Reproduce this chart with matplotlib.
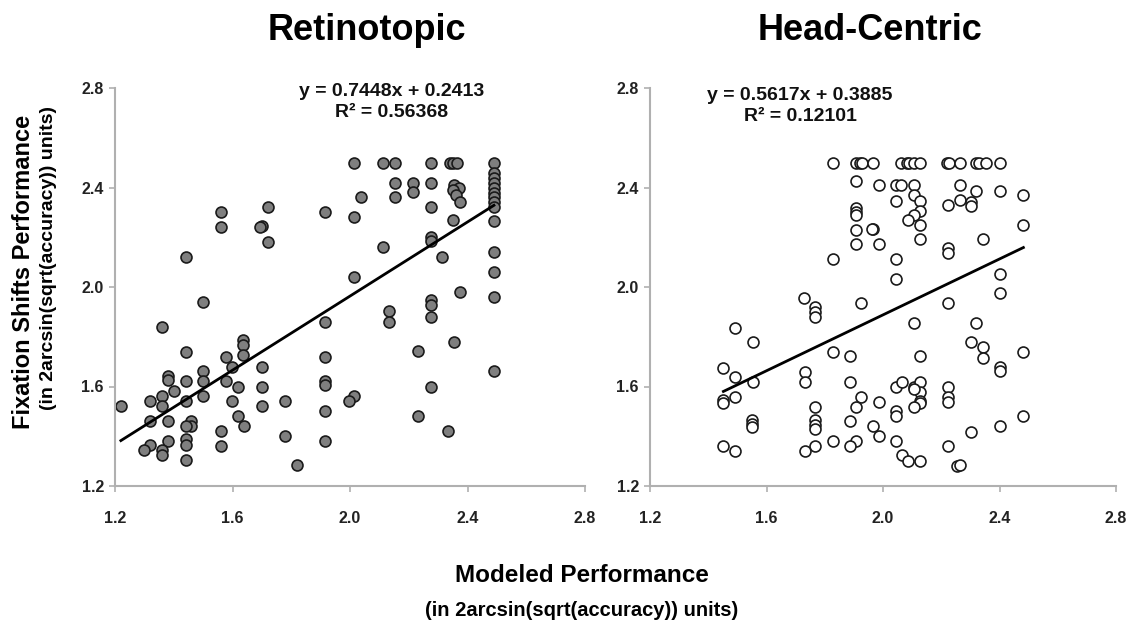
import numpy as np
import matplotlib
matplotlib.use("Agg")
import matplotlib.pyplot as plt

plt.rcParams['font.family'] = ['Liberation Sans', 'DejaVu Sans']
plt.rcParams['font.weight'] = 'bold'

# Retinotopic panel (modeled, fixation shifts)
retino_x = [
    1.56, 1.56, 1.72, 1.70, 1.695, 1.72, 1.916, 1.44, 1.50, 1.36, 1.916, 1.44, 1.578,
    1.637, 1.637, 1.637, 1.916,
    1.22, 1.70, 1.598, 1.38, 1.38, 1.44, 1.50, 1.50, 1.578, 1.619, 1.70, 1.916, 1.916,
    1.40, 1.36, 1.319, 1.36, 1.44, 1.50, 1.598, 1.70, 1.778, 1.916, 1.319, 1.38, 1.46,
    1.46, 1.44, 1.619, 1.639, 1.56, 1.778, 1.916, 1.38, 1.44, 1.44, 1.319, 1.299, 1.36,
    1.36, 1.56, 1.44, 1.82,
    2.014, 2.113, 2.154, 2.275, 2.34, 2.352, 2.363, 2.49,
    2.154, 2.213, 2.213, 2.275, 2.036, 2.154, 2.354, 2.37, 2.35, 2.36, 2.374, 2.275,
    2.49, 2.49, 2.49, 2.49, 2.49, 2.49, 2.49, 2.49, 2.49,
    2.014, 2.352, 2.275, 2.275, 2.113, 2.313, 2.49, 2.49, 2.014, 2.374, 2.49, 2.275,
    2.275, 2.275, 2.134, 2.134, 2.354, 2.233,
    2.49, 2.275, 2.014, 1.996, 2.233, 2.334,
]
retino_y = [
    2.30, 2.24, 2.32, 2.245, 2.24, 2.18, 2.30, 2.12, 1.94, 1.84, 1.86, 1.74, 1.72,
    1.786, 1.766, 1.726, 1.72,
    1.52, 1.68, 1.68, 1.643, 1.626, 1.623, 1.662, 1.623, 1.623, 1.60, 1.60, 1.623, 1.606,
    1.583, 1.563, 1.542, 1.523, 1.542, 1.563, 1.542, 1.523, 1.542, 1.503, 1.461, 1.462, 1.461,
    1.442, 1.441, 1.481, 1.442, 1.422, 1.402, 1.382, 1.382, 1.388, 1.365, 1.365, 1.345, 1.345,
    1.325, 1.361, 1.305, 1.283,
    2.50, 2.50, 2.50, 2.50, 2.50, 2.50, 2.50, 2.50,
    2.42, 2.42, 2.38, 2.42, 2.36, 2.36, 2.41, 2.40, 2.39, 2.37, 2.343, 2.32,
    2.457, 2.437, 2.419, 2.397, 2.377, 2.361, 2.343, 2.323, 2.267,
    2.28, 2.269, 2.20, 2.186, 2.162, 2.122, 2.142, 2.06, 2.041, 1.981, 1.961, 1.948,
    1.928, 1.88, 1.902, 1.86, 1.78, 1.741,
    1.662, 1.60, 1.563, 1.542, 1.481, 1.422,
]

# Head-Centric panel
head_x = [
    1.829, 1.906, 1.922, 1.929, 1.967, 2.062, 2.081, 2.09, 2.108, 2.126, 2.219, 2.226,
    2.265, 2.321, 2.328, 2.353, 2.403,
    1.906, 1.987, 2.044, 2.062, 2.108, 2.044, 2.106, 2.126, 2.126, 2.106, 2.085, 1.906,
    1.906, 1.906, 1.906, 1.967, 1.962, 2.126, 2.126, 1.906, 1.987, 2.224, 2.224, 2.224,
    1.829, 2.044, 2.044, 1.729, 1.768, 1.768, 1.768, 1.926, 2.224, 2.106, 1.552, 1.829,
    1.888, 2.126,
    1.731, 1.731, 1.552, 1.888, 1.926, 1.908, 1.768, 1.987, 2.044, 2.065, 2.106, 2.126,
    2.126, 2.108, 2.126, 2.126, 2.106, 2.224, 2.224, 2.224, 1.768, 1.768, 1.768, 1.888,
    2.044, 2.044, 1.967, 1.987, 1.829, 1.908, 1.888, 1.768, 1.731, 2.044, 2.065, 2.085,
    2.126, 2.224, 2.255,
    2.265, 2.321, 2.403, 2.482, 2.265, 2.301, 2.301, 2.482, 2.344, 2.403, 2.403, 2.321,
    2.301, 2.344, 2.344, 2.403, 2.403, 2.482, 2.482, 2.403, 2.301, 2.265,
    1.493, 1.452, 1.493, 1.493, 1.452, 1.452, 1.55, 1.55, 1.55, 1.452, 1.493,
]
head_y = [
    2.50, 2.50, 2.50, 2.50, 2.50, 2.50, 2.50, 2.50, 2.50, 2.50, 2.50, 2.50,
    2.50, 2.50, 2.50, 2.50, 2.50,
    2.427, 2.409, 2.409, 2.409, 2.409, 2.347, 2.37, 2.347, 2.307, 2.29, 2.27, 2.317,
    2.303, 2.29, 2.229, 2.232, 2.232, 2.249, 2.192, 2.172, 2.172, 2.33, 2.156, 2.136,
    2.114, 2.114, 2.033, 1.955, 1.92, 1.90, 1.88, 1.935, 1.935, 1.857, 1.778, 1.739,
    1.723, 1.723,
    1.66, 1.617, 1.619, 1.617, 1.559, 1.519, 1.519, 1.539, 1.597, 1.619, 1.597, 1.619,
    1.579, 1.589, 1.543, 1.532, 1.519, 1.599, 1.557, 1.538, 1.465, 1.445, 1.428, 1.461,
    1.503, 1.481, 1.441, 1.401, 1.382, 1.382, 1.361, 1.361, 1.342, 1.382, 1.323, 1.302,
    1.302, 1.361, 1.28,
    2.409, 2.387, 2.387, 2.37, 2.35, 2.343, 2.326, 2.249, 2.192, 2.052, 1.975, 1.857,
    1.778, 1.758, 1.714, 1.68, 1.663, 1.737, 1.481, 1.441, 1.418, 1.284,
    1.834, 1.676, 1.637, 1.557, 1.545, 1.535, 1.465, 1.449, 1.436, 1.362, 1.342,
]

titles = ["Retinotopic", "Head-Centric"]
slopes = [0.7448, 0.5617]
equations = ["y = 0.7448x + 0.2413\nR\u00b2 = 0.56368", "y = 0.5617x + 0.3885\nR\u00b2 = 0.12101"]
ticks = [1.2, 1.6, 2.0, 2.4, 2.8]

fig = plt.figure(figsize=(11.27, 6.26), dpi=100)
W, H = 1127, 626
ax1 = fig.add_axes([115 / W, 1 - 486 / H, 470 / W, 398 / H])
ax2 = fig.add_axes([650 / W, 1 - 486 / H, 466 / W, 398 / H])


def style_axes(ax):
    ax.set_xlim(1.2, 2.8)
    ax.set_ylim(1.2, 2.8)
    ax.set_xticks(ticks)
    ax.set_yticks(ticks)
    ax.xaxis.set_major_formatter(matplotlib.ticker.FormatStrFormatter('%.1f'))
    ax.yaxis.set_major_formatter(matplotlib.ticker.FormatStrFormatter('%.1f'))
    for side in ['top', 'right']:
        ax.spines[side].set_visible(False)
    for side in ['left', 'bottom']:
        ax.spines[side].set_color('#b0b0b0')
        ax.spines[side].set_linewidth(1.5)
    ax.tick_params(direction='out', length=4, width=1.2, color='#b0b0b0',
                   labelsize=11.5, labelcolor='#222222')
    ax.tick_params(axis='x', pad=14)
    ax.tick_params(axis='y', pad=4)
    for lab in ax.get_xticklabels() + ax.get_yticklabels():
        lab.set_fontweight('bold')


def trend(ax, xs, ys, slope):
    # trendline with the labelled slope, passing through the data centroid
    xs = np.asarray(xs)
    ys = np.asarray(ys)
    icpt = ys.mean() - slope * xs.mean()
    xl = np.array([xs.min(), xs.max()])
    ax.plot(xl, slope * xl + icpt, color='black', lw=2.0, zorder=3)


ax1.scatter(retino_x, retino_y, s=62, facecolor='#7f7f7f', edgecolor='#1a1a1a',
            linewidth=1.2, zorder=2)
trend(ax1, retino_x, retino_y, slopes[0])
style_axes(ax1)

ax2.scatter(head_x, head_y, s=62, facecolor='white', edgecolor='#1a1a1a',
            linewidth=1.2, zorder=2)
trend(ax2, head_x, head_y, slopes[1])
style_axes(ax2)

fig.text(367 / W, 1 - 31 / H, titles[0], ha='center', va='center', fontsize=26, fontweight='bold')
fig.text(870 / W, 1 - 31 / H, titles[1], ha='center', va='center', fontsize=26, fontweight='bold')

fig.text(392 / W, 1 - 102 / H, equations[0], ha='center', va='center', fontsize=14,
         fontweight='bold', linespacing=1.25, color='#111111')
fig.text(800 / W, 1 - 106 / H, equations[1], ha='center', va='center', fontsize=14,
         fontweight='bold', linespacing=1.25, color='#111111')

fig.text(24 / W, 1 - 272 / H, "Fixation Shifts Performance", rotation=90, ha='center',
         va='center', fontsize=17, fontweight='bold')
fig.text(49 / W, 1 - 258 / H, "(in 2arcsin(sqrt(accuracy)) units)", rotation=90, ha='center',
         va='center', fontsize=14, fontweight='bold')

fig.text(582 / W, 1 - 575 / H, "Modeled Performance", ha='center', va='center',
         fontsize=17.5, fontweight='bold')
fig.text(582 / W, 1 - 610 / H, "(in 2arcsin(sqrt(accuracy)) units)", ha='center', va='center',
         fontsize=14.5, fontweight='bold')

fig.savefig("out.png", dpi=100)
